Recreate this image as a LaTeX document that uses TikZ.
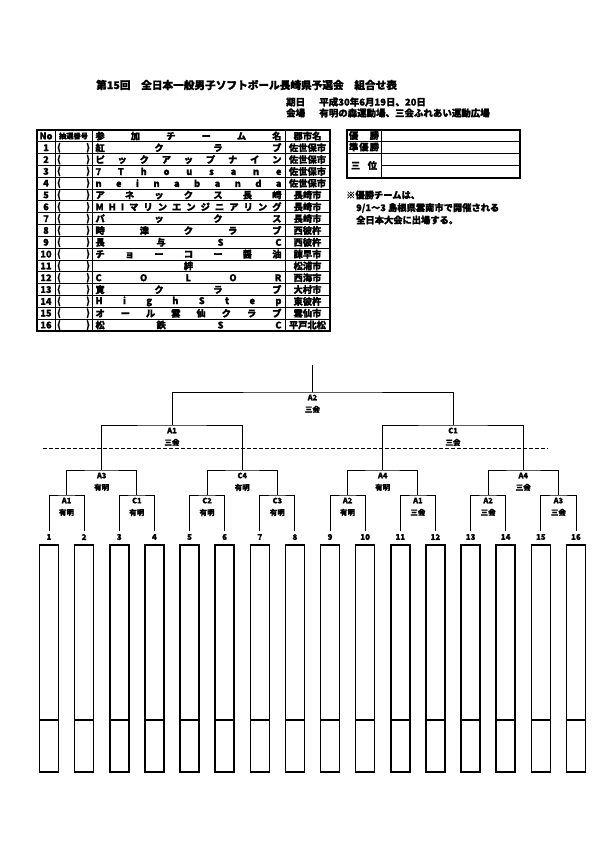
\documentclass[tikz,border=0pt]{standalone}
\usepackage{fontspec}
\setmainfont{Noto Sans CJK JP}[BoldFeatures={FakeBold=1.2}]
\def\GG{\hfill}
\begin{document}
\begin{tikzpicture}[x=1bp,y=-1bp,line join=miter,
  br/.style={line width=0.9bp},
  tbo/.style={line width=1.5bp},
  tbi/.style={line width=1bp},
  lab/.style={font=\bfseries\fontsize{7.5}{12}\selectfont,align=center,inner sep=0pt,anchor=north,yshift=-2.5bp},
  num/.style={font=\bfseries\fontsize{8}{8}\selectfont,inner sep=0pt,yshift=-6bp},
  cell/.style={font=\bfseries\fontsize{9.3}{9.5}\selectfont,inner sep=0pt},
  txt/.style={font=\bfseries\fontsize{9.5}{11}\selectfont,inner sep=0pt,anchor=west},
  boxs/.style={line width=1.5bp}]
\useasboundingbox[fill=white] (0,0) rectangle (595,842);

% title
\node[inner sep=0pt,anchor=west,font=\bfseries\fontsize{10.7}{12}\selectfont] (title) at (96,85) {第15回\quad 全日本一般男子ソフトボール長崎県予選会\quad 組合せ表};
\node[txt] (date) at (286,102) {期日\hspace{1.5em}平成30年6月19日、20日};
\node[txt] (venue) at (286,113) {会場\hspace{1.5em}有明の森運動場、三会ふれあい運動広場};

% entry table
\draw[tbo] (37,130) rectangle (330,331);
\foreach \k in {1,...,16} \draw[tbi] (37,{130+11.82*\k}) -- (330,{130+11.82*\k});
\foreach \xx in {55,92,285} \draw[tbi] (\xx,130) -- (\xx,331);
\node[cell] (hno) at (46,136) {No};
\node[cell,font=\bfseries\fontsize{7.3}{8}\selectfont] (hlot) at (73.5,136) {抽選番号};
\node[cell] (hteam) at (188.5,136) {\makebox[186bp][s]{参\GG 加\GG チ\GG ー\GG ム\GG 名}};
\node[cell] (hcity) at (307.5,136) {郡市名};
\foreach \r/\t/\c in {
 1/{紅\GG ク\GG ラ\GG ブ}/佐世保市,
 2/{ピ\GG ッ\GG ク\GG ア\GG ッ\GG プ\GG ナ\GG イ\GG ン}/佐世保市,
 3/{7\GG T\GG h\GG o\GG u\GG s\GG a\GG n\GG e}/佐世保市,
 4/{n\GG e\GG i\GG n\GG a\GG b\GG a\GG n\GG d\GG a}/佐世保市,
 5/{ア\GG ネ\GG ッ\GG ク\GG ス\GG 長\GG 崎}/長崎市,
 6/{M\GG H\GG I\GG マ\GG リ\GG ン\GG エ\GG ン\GG ジ\GG ニ\GG ア\GG リ\GG ン\GG グ}/長崎市,
 7/{パ\GG ッ\GG ク\GG ス}/長崎市,
 8/{時\GG 津\GG ク\GG ラ\GG ブ}/西彼杵,
 9/{長\GG 与\GG S\GG C}/西彼杵,
 10/{チ\GG ョ\GG ー\GG コ\GG ー\GG 醤\GG 油}/諫早市,
 11/{\GG 絆\GG}/松浦市,
 12/{C\GG O\GG L\GG O\GG R}/西海市,
 13/{寛\GG ク\GG ラ\GG ブ}/大村市,
 14/{H\GG i\GG g\GG h\GG S\GG t\GG e\GG p}/東彼杵,
 15/{オ\GG ー\GG ル\GG 雲\GG 仙\GG ク\GG ラ\GG ブ}/雲仙市,
 16/{松\GG 鉄\GG S\GG C}/平戸北松}{
  \node[cell] (no\r) at (46,{130+11.82*(\r+0.5)}) {\r};
  \node[cell] (lot\r) at (73.5,{130+11.82*(\r+0.5)}) {\makebox[33bp][s]{(\GG)}};
  \node[cell] (team\r) at (188.5,{130+11.82*(\r+0.5)}) {\makebox[186bp][s]{\t}};
  \node[cell] (city\r) at (307.5,{130+11.82*(\r+0.5)}) {\c};
}

% result box
\draw[tbo] (347,130) rectangle (520,178);
\draw[tbi] (347,141) -- (520,141);
\draw[tbi] (347,153) -- (520,153);
\draw[tbi] (381,165) -- (520,165);
\draw[tbi] (381,130) -- (381,178);
\node[cell] (win) at (364,135.5) {\makebox[30bp][s]{優\GG 勝}};
\node[cell] (second) at (364,147) {\makebox[30bp][s]{準\GG 優\GG 勝}};
\node[cell] (third) at (364,165.5) {\makebox[26bp][s]{三\GG 位}};

% note
\node[txt,font=\bfseries\fontsize{9.3}{11}\selectfont] (note1) at (346,195) {※優勝チームは、};
\node[txt,font=\bfseries\fontsize{9.3}{11}\selectfont] (note2) at (356,208) {9/1～3 島根県雲南市で開催される};
\node[txt,font=\bfseries\fontsize{9.3}{11}\selectfont] (note3) at (356,220) {全日本大会に出場する。};

% bracket
\foreach \i in {1,...,16} \coordinate (L\i) at ({49+35.13*(\i-1)},531);
\foreach \j in {1,...,8} \coordinate (M\j) at ({49+35.13*(2*\j-1.5)},495);
\foreach \k in {1,...,4} \coordinate (N\k) at ({49+35.13*(4*\k-2.5)},470);
\foreach \q in {1,2} \coordinate (Q\q) at ({49+35.13*(8*\q-4.5)},425);
\coordinate (R) at ({49+35.13*7.5},392);
\coordinate (T) at ({49+35.13*7.5},365);

\foreach \j [evaluate=\j as \a using {int(2*\j-1)}, evaluate=\j as \b using {int(2*\j)}] in {1,...,8}
  \draw[br] (L\a) |- (M\j) -| (L\b);
\foreach \k [evaluate=\k as \a using {int(2*\k-1)}, evaluate=\k as \b using {int(2*\k)}] in {1,...,4}
  \draw[br] (M\a) |- (N\k) -| (M\b);
\foreach \q [evaluate=\q as \a using {int(2*\q-1)}, evaluate=\q as \b using {int(2*\q)}] in {1,2}
  \draw[br] (N\a) |- (Q\q) -| (N\b);
\draw[br] (Q1) |- (R) -| (Q2);
\draw[line width=1.3bp] (R) -- (T);

\coordinate (dL) at (43,448);
\coordinate (dR) at (548,448);
\draw[line width=1bp,dash pattern=on 4bp off 2bp] (dL) -- (dR);

\foreach \j/\t in {1/{A1\\有明},2/{C1\\有明},3/{C2\\有明},4/{C3\\有明},5/{A2\\有明},6/{A1\\三会},7/{A2\\三会},8/{A3\\三会}}
  \node[lab] (lm\j) at (M\j) {\t};
\foreach \k/\t in {1/{A3\\有明},2/{C4\\有明},3/{A4\\有明},4/{A4\\三会}}
  \node[lab] (ln\k) at (N\k) {\t};
\node[lab] (lq1) at (Q1) {A1\\三会};
\node[lab] (lq2) at (Q2) {C1\\三会};
\node[lab] (lr) at (R) {A2\\三会};

\foreach \i in {1,...,16} {
  \node[num] (n\i) at (L\i) {\i};
  \draw[boxs] ({49+35.13*(\i-1)-9.5},545) rectangle ({49+35.13*(\i-1)+9.5},772);
  \draw[boxs] ({49+35.13*(\i-1)-9.5},720) -- ({49+35.13*(\i-1)+9.5},720);
}
\end{tikzpicture}
\end{document}
